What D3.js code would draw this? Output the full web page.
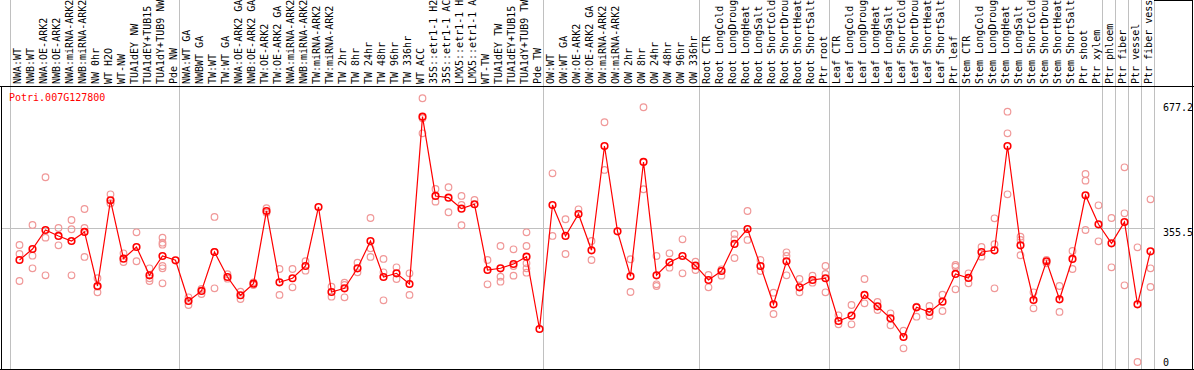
<!DOCTYPE html>
<html>
<head>
<meta charset="utf-8">
<script src="https://cdn.jsdelivr.net/npm/d3@7"></script>
<style>
    body { margin: 0; background: #fff; }
    svg { display: block; }
    text { font-family: "DejaVu Sans Mono", monospace; font-size: 10px; }
</style>
</head>
<body>
<div id="chart"></div>
<script>
// Expression profile for one poplar gene across sample conditions

const geneId = "Potri.007G127800";

const sampleLabels = [
    "NWA:WT", "NWB:WT", "NWA:OE-ARK2", "NWB:OE-ARK2", "NWA:miRNA-ARK2", "NWB:miRNA-ARK2",
    "NW 0hr", "WT H2O", "WT-NW", "TUA1dEY NW", "TUA1dEY+TUB15 NW", "TUA1dY+TUB9 NW", "Pde NW",
    "NWA:WT GA", "NWBWT GA", "TW:WT", "TW:WT GA", "NWA:OE-ARK2 GA", "NWB:OE-ARK2 GA",
    "TW:OE-ARK2", "TW:OE-ARK2 GA", "NWA:miRNA-ARK2 GA", "NWB:miRNA-ARK2 GA", "TW:miRNA-ARK2",
    "TW:miRNA-ARK2 GA", "TW 2hr", "TW 8hr", "TW 24hr", "TW 48hr", "TW 96hr", "TW 336hr",
    "WT ACC", "35S::etr1-1 H2O", "35S::etr1-1 ACC", "LMX5::etr1-1 H2O", "LMX5::etr1-1 ACC",
    "WT-TW", "TUA1dEY TW", "TUA1dEY+TUB15 TW", "TUA1dY+TUB9 TW", "Pde TW",
    "OW:WT", "OW:WT GA", "OW:OE-ARK2", "OW:OE-ARK2 GA", "OW:miRNA-ARK2", "OW:miRNA-ARK2 GA",
    "OW 2hr", "OW 8hr", "OW 24hr", "OW 48hr", "OW 96hr", "OW 336hr",
    "Root CTR", "Root LongCold", "Root LongDrought", "Root LongHeat", "Root LongSalt",
    "Root ShortCold", "Root ShortDrought", "Root ShortHeat", "Root ShortSalt", "Ptr root",
    "Leaf CTR", "Leaf LongCold", "Leaf LongDrought", "Leaf LongHeat", "Leaf LongSalt",
    "Leaf ShortCold", "Leaf ShortDrought", "Leaf ShortHeat", "Leaf ShortSalt", "Ptr leaf",
    "Stem CTR", "Stem LongCold", "Stem LongDrought", "Stem LongHeat", "Stem LongSalt",
    "Stem ShortCold", "Stem ShortDrought", "Stem ShortHeat", "Stem ShortSalt", "Ptr shoot",
    "Ptr xylem", "Ptr phloem", "Ptr fiber", "Ptr vessel", "Ptr fiber vessel"
];

// index where each experiment block starts (last entry closes the final block)
const groupStarts = [0, 13, 41, 53, 63, 73, 84, 85, 86, 87, 88];

const meanValues = [
    270.6, 299.8, 350.2, 334.3, 321.0, 344.9, 201.6, 429.0, 274.1, 305.1, 230.0, 281.2, 269.8,
    161.8, 188.4, 291.8, 225.5, 177.0, 207.7, 400.6, 211.4, 222.1, 254.7, 411.2, 185.7, 195.5,
    248.6, 321.0, 225.5, 235.3, 206.9, 650.8, 440.4, 435.9, 406.7, 418.4, 244.1, 248.6, 260.0,
    279.4, 87.5,
    416.5, 334.3, 392.6, 296.3, 573.0, 346.7, 227.4, 530.6, 230.0, 264.5, 281.2, 255.5,
    217.5, 241.4, 313.1, 352.8, 254.7, 153.1, 267.2, 198.2, 217.5, 222.1,
    108.8, 122.8, 177.8, 147.8, 115.9, 66.3, 145.1, 132.7, 160.0, 233.5,
    222.9, 291.8, 296.3, 573.0, 309.6, 164.5, 267.2, 166.3, 273.3, 442.2, 365.3,
    314.9, 371.4, 153.1, 293.7
];

const replicates = [
    [310.4, 286.5, 214.9], [363.5, 282.0, 248.6], [490.0, 329.8, 230.0], [355.5, 309.6],
    [376.7, 352.1, 230.0], [405.9, 355.5, 278.6], [222.1, 199.8, 184.9], [444.9, 421.0, 421.0],
    [288.4, 265.3], [344.1, 267.2], [248.6, 222.1, 214.9],
    [329.8, 316.5, 311.2, 254.7, 248.6, 208.8], [],
    [171.6, 151.2], [193.7, 180.4], [384.7, 291.8, 195.5], [232.7, 221.0], [186.5, 167.1],
    [211.4, 204.3], [407.8, 396.1], [246.7, 177.8], [246.7, 198.2], [267.2, 242.2], [],
    [199.8, 173.2], [210.4, 204.3, 171.6], [263.4, 238.0], [382.0, 301.6, 278.6],
    [273.3, 238.0, 163.7], [251.2, 220.2], [235.3, 177.8], [699.6, 646.5, 606.7],
    [459.0, 425.3], [463.5, 397.2], [440.4, 416.5, 362.7], [429.8], [270.6, 206.1],
    [307.7, 226.3, 213.0], [299.0, 254.7, 229.0], [344.1, 307.7, 261.9, 248.6, 236.9], [],
    [500.6, 334.3], [378.6, 286.5], [405.1], [321.0, 270.6], [635.9, 509.4], [],
    [272.5, 185.7], [675.7, 458.2], [281.2, 206.1, 201.6], [288.4, 250.2], [325.5, 235.3],
    [266.1, 244.1],
    [230.8, 198.2], [245.9, 229.0], [339.6, 325.5, 275.9], [400.6, 323.7], [270.6, 241.4],
    [183.8, 127.3], [291.0, 281.2, 230.0], [220.2, 184.9], [229.0, 210.4], [254.7, 233.5, 184.9],
    [123.9, 100.0], [151.2, 100.0], [220.2, 155.7], [159.2, 137.9], [129.2, 97.4], [83.0, 36.3],
    [146.7, 120.2], [148.6, 122.0], [178.5, 135.3], [257.3, 252.8, 192.9],
    [235.3, 208.8], [305.1, 279.4], [381.2, 312.3, 195.5], [664.0, 606.7, 444.9],
    [332.4, 323.7, 283.1], [184.9, 142.5], [270.6, 261.9], [201.6, 132.7], [294.5, 246.7],
    [498.8, 481.0, 350.2], [415.7, 320.2],
    [382.0, 251.2], [516.5, 394.5, 203.5], [304.3, 0], [431.6, 248.6, 199.0]
];

const yTickValues = [0, 355.5, 677.2];
const gridValue = 355.5;

function createVisualization() {
    const svgWidth = 1194;
    const svgHeight = 370;
    const labelBottom = 84;   // rotated sample names end here
    const frameTop = 86;
    const frameBottom = 369;
    const frameRight = 1192;

    const svg = d3.select("#chart")
        .append("svg")
        .attr("width", svgWidth)
        .attr("height", svgHeight);

    // Scales: one 13px column per sample, expression on a linear axis
    const xScale = d3.scaleLinear()
        .domain([0, sampleLabels.length])
        .range([10, 10 + 13 * sampleLabels.length]);
    const px = i => xScale(i) + 9.5;

    const yScale = d3.scaleLinear()
        .domain([0, 677.2])
        .range([362, 106.7]);

    // Block separators run the full height
    svg.selectAll(".sep")
        .data(groupStarts)
        .enter().append("line")
        .attr("class", "sep")
        .attr("x1", d => Math.floor(xScale(d)) + 0.5)
        .attr("x2", d => Math.floor(xScale(d)) + 0.5)
        .attr("y1", 0)
        .attr("y2", frameBottom)
        .attr("stroke", "#c0c0c0")
        .attr("shape-rendering", "crispEdges");

    // Horizontal reference line
    svg.append("line")
        .attr("x1", 1)
        .attr("x2", xScale(sampleLabels.length) + 1)
        .attr("y1", Math.round(yScale(gridValue)) + 0.5)
        .attr("y2", Math.round(yScale(gridValue)) + 0.5)
        .attr("stroke", "#c0c0c0")
        .attr("shape-rendering", "crispEdges");

    // Frame
    const frame = svg.append("g")
        .attr("stroke", "#000")
        .attr("shape-rendering", "crispEdges");
    frame.append("line").attr("x1", 0).attr("x2", svgWidth).attr("y1", frameTop + 0.5).attr("y2", frameTop + 0.5);
    frame.append("line").attr("x1", 0).attr("x2", svgWidth).attr("y1", frameBottom + 0.5).attr("y2", frameBottom + 0.5);
    frame.append("line").attr("x1", 1.5).attr("x2", 1.5).attr("y1", frameTop).attr("y2", frameBottom);
    frame.append("line").attr("x1", frameRight + 0.5).attr("x2", frameRight + 0.5).attr("y1", 0).attr("y2", frameBottom);
    frame.append("line")
        .attr("x1", Math.floor(xScale(sampleLabels.length)))
        .attr("x2", frameRight)
        .attr("y1", 0.5).attr("y2", 0.5);

    // Sample names, reading upwards
    svg.selectAll(".sample")
        .data(sampleLabels)
        .enter().append("text")
        .attr("class", "sample")
        .attr("transform", (d, i) => `translate(${px(i) + 1.5},${labelBottom}) rotate(-90)`)
        .attr("fill", "#000")
        .text(d => d);

    // Gene id
    svg.append("text")
        .attr("x", 9)
        .attr("y", 101)
        .attr("fill", "#ff0000")
        .text(geneId);

    // Right-hand value labels
    svg.selectAll(".ytick")
        .data(yTickValues)
        .enter().append("text")
        .attr("class", "ytick")
        .attr("x", 1163)
        .attr("y", d => yScale(d) + 3.8 + (d === gridValue ? 4.5 : 0))
        .attr("fill", "#000")
        .text(d => d);

    // Individual replicates
    const repPoints = [];
    replicates.forEach((reps, i) => reps.forEach(v => repPoints.push({ i: i, v: v })));

    svg.selectAll(".rep")
        .data(repPoints)
        .enter().append("circle")
        .attr("class", "rep")
        .attr("cx", d => px(d.i))
        .attr("cy", d => yScale(d.v))
        .attr("r", 3.3)
        .attr("fill", "none")
        .attr("stroke", "#f09898")
        .attr("stroke-width", 1.2);

    // Mean line
    const line = d3.line()
        .x((d, i) => px(i))
        .y(d => yScale(d));

    svg.append("path")
        .datum(meanValues)
        .attr("fill", "none")
        .attr("stroke", "#ff0000")
        .attr("stroke-width", 1.2)
        .attr("d", line);

    svg.selectAll(".mean")
        .data(meanValues)
        .enter().append("circle")
        .attr("class", "mean")
        .attr("cx", (d, i) => px(i))
        .attr("cy", d => yScale(d))
        .attr("r", 3.3)
        .attr("fill", "none")
        .attr("stroke", "#ff0000")
        .attr("stroke-width", 1.6);
}

createVisualization();
</script>
</body>
</html>
